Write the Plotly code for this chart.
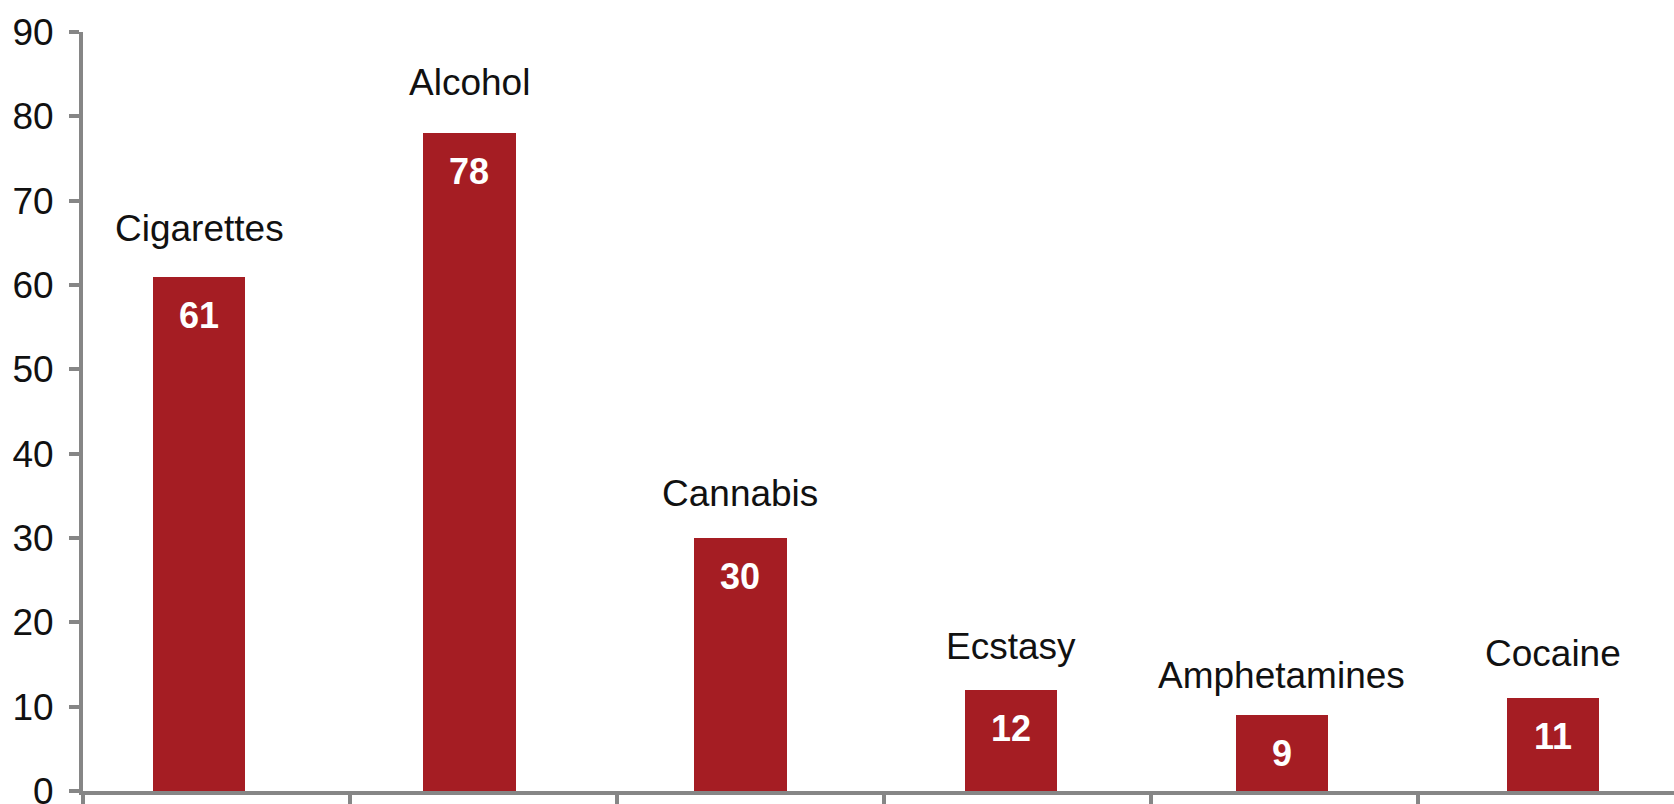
import plotly.graph_objects as go

categories = ["Cigarettes", "Alcohol", "Cannabis", "Ecstasy", "Amphetamines", "Cocaine"]
values = [61, 78, 30, 12, 9, 11]
y_ticks = [0, 10, 20, 30, 40, 50, 60, 70, 80, 90]

BAR_COLOR = "#A51D23"
AXIS_COLOR = "#868686"
FONT = "Liberation Sans"

bar_width = 0.345
bar_offsets = [-0.237, -0.225, -0.210, -0.197, -0.182, -0.167]
label_shifts = [26, 28, 22, 21, 17, 22]

fig = go.Figure()
fig.add_trace(go.Bar(
    x=categories,
    y=values,
    width=[bar_width] * len(categories),
    offset=bar_offsets,
    marker=dict(color=BAR_COLOR, line=dict(width=0)),
    hoverinfo="x+y",
))

annotations = []
for i, (cat, v) in enumerate(zip(categories, values)):
    cx = i + bar_offsets[i] + bar_width / 2
    annotations.append(dict(
        x=cx, y=v, xref="x", yref="y", text=cat, showarrow=False,
        xanchor="center", yanchor="bottom", yshift=label_shifts[i],
        font=dict(family=FONT, size=37, color="#111111"),
    ))
    annotations.append(dict(
        x=cx, y=v, xref="x", yref="y", text=f"<b>{v}</b>", showarrow=False,
        xanchor="center", yanchor="top", yshift=-16,
        font=dict(family=FONT, size=36, color="white"),
    ))

fig.update_layout(
    width=1674, height=804,
    margin=dict(l=83, r=0, t=32, b=13, pad=0, autoexpand=False),
    plot_bgcolor="white", paper_bgcolor="white",
    showlegend=False,
    annotations=annotations,
    bargap=0,
)
fig.update_xaxes(
    type="category",
    range=[-0.5, 5.459],
    automargin=False,
    showline=True, linecolor=AXIS_COLOR, linewidth=4,
    ticks="outside", tickson="boundaries", ticklen=20, tickwidth=4, tickcolor=AXIS_COLOR,
    showticklabels=False, showgrid=False, zeroline=False,
)
fig.update_yaxes(
    range=[0, 90],
    tickvals=y_ticks,
    automargin=False,
    ticklabeloverflow="allow",
    showline=True, linecolor=AXIS_COLOR, linewidth=4,
    ticks="outside", ticklen=10, tickwidth=4, tickcolor=AXIS_COLOR,
    ticklabelstandoff=8,
    tickfont=dict(family=FONT, size=37, color="#111111"),
    showgrid=False, zeroline=False,
)

fig.write_html(
    "out.html",
    config={"displayModeBar": False},
    post_script="document.body.style.margin='0px';document.body.style.overflow='hidden';",
)
